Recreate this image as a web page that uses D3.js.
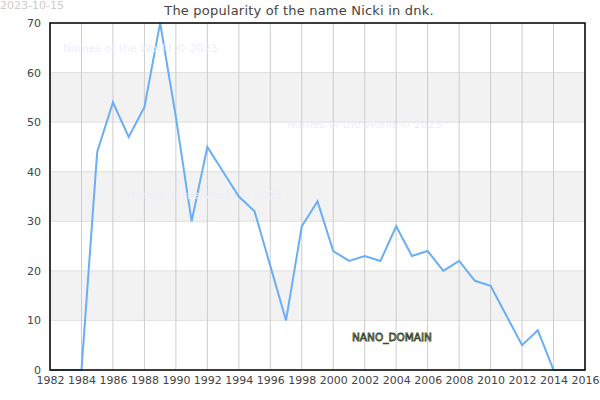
<!DOCTYPE html>
<html>
<head>
<meta charset="utf-8">
<script src="https://cdn.jsdelivr.net/npm/d3@7"></script>
<style>
	body { margin: 0; background: #fff; }
	svg text { font-family: "DejaVu Sans", sans-serif; }
</style>
</head>
<body>
<div id="chart"></div>
<script>
var years = [1982, 1983, 1984, 1985, 1986, 1987, 1988, 1989, 1990, 1991, 1992, 1993, 1994, 1995, 1996, 1997, 1998, 1999,
	2000, 2001, 2002, 2003, 2004, 2005, 2006, 2007, 2008, 2009, 2010, 2011, 2012, 2013, 2014, 2015, 2016];
var counts = [0, 0, 0, 44, 54, 47, 53, 70, 51, 30, 45, 40, 35, 32, 21, 10, 29, 34,
	24, 22, 23, 22, 29, 23, 24, 20, 22, 18, 17, 11, 5, 8, 0, 0, 0];
var xTicks = d3.range(1982, 2017, 2);
var yTicks = [0, 10, 20, 30, 40, 50, 60, 70];
var bands = [[10, 20], [30, 40], [50, 60]];

var titleText = "The popularity of the name Nicki in dnk.";
var dateText = "2023-10-15";
var watermarks = [[63, 48], [287, 124], [127, 195]];

function drawChart(target, width, height, margin) {
	var w = width - margin.left - margin.right;
	var h = height - margin.top - margin.bottom;

	var x = d3.scaleLinear().domain([1982, 2016]).range([0, w]);
	var y = d3.scaleLinear().domain([0, 70]).range([h, 0]);

	var svg = d3.select(target)
		.append("svg")
		.attr("width", width)
		.attr("height", height);

	svg.append("text")
		.attr("x", 0)
		.attr("y", 9)
		.attr("font-size", 11)
		.attr("fill", "#ccc")
		.text(dateText);

	svg.append("text")
		.attr("x", width / 2 - 1)
		.attr("y", 15)
		.attr("text-anchor", "middle")
		.attr("font-size", 13)
		.attr("letter-spacing", 0.2)
		.attr("fill", "#444")
		.text(titleText);

	var g = svg.append("g")
		.attr("transform", "translate(" + margin.left + "," + margin.top + ")");

	// grey bands
	g.selectAll("rect.band")
		.data(bands)
		.enter().append("rect")
		.attr("x", 0)
		.attr("width", w)
		.attr("y", function (d) { return y(d[1]); })
		.attr("height", function (d) { return y(d[0]) - y(d[1]); })
		.attr("fill", "#f2f2f2");

	// horizontal grid
	g.selectAll("line.hgrid")
		.data(yTicks)
		.enter().append("line")
		.attr("x1", 0).attr("x2", w)
		.attr("y1", function (d) { return y(d); })
		.attr("y2", function (d) { return y(d); })
		.attr("stroke", "#e0e0e0");

	// vertical grid
	g.selectAll("line.vgrid")
		.data(xTicks)
		.enter().append("line")
		.attr("x1", function (d) { return x(d); })
		.attr("x2", function (d) { return x(d); })
		.attr("y1", 0).attr("y2", h)
		.attr("stroke", "#ccc");

	// watermarks
	watermarks.forEach(function (p) {
		svg.append("text")
			.attr("x", p[0])
			.attr("y", p[1] + 4)
			.attr("font-size", 11)
			.attr("fill", "#eeeefa")
			.text("Names of the World © 2023");
	});

	var valueline = d3.line()
		.x(function (d, i) { return x(years[i]); })
		.y(function (d) { return y(d); });

	g.append("path")
		.attr("d", valueline(counts))
		.attr("fill", "none")
		.attr("stroke", "#6aaef5")
		.attr("stroke-width", 2);

	svg.append("text")
		.attr("x", 352)
		.attr("y", 341)
		.attr("font-size", 10.5)
		.attr("fill", "#e8eee0")
		.attr("stroke", "#3c4a30")
		.attr("stroke-width", 0.8)
		.text("NANO_DOMAIN");

	var xAxis = d3.axisBottom(x).tickValues(xTicks).tickFormat(d3.format("d")).tickSize(0).tickPadding(6);
	var yAxis = d3.axisLeft(y).tickValues(yTicks).tickSize(0).tickPadding(9);

	var xg = g.append("g")
		.attr("transform", "translate(0," + h + ")")
		.call(xAxis);
	var yg = g.append("g").call(yAxis);
	[xg, yg].forEach(function (a) {
		a.select(".domain").remove();
		a.selectAll("text").attr("font-size", 11).attr("fill", "#444")
			.style("font-family", "DejaVu Sans, sans-serif");
	});

	// frame
	g.append("rect")
		.attr("width", w)
		.attr("height", h)
		.attr("fill", "none")
		.attr("stroke", "#000")
		.attr("stroke-width", 1.5);
}

drawChart("#chart", 600, 400, { top: 23, right: 15, bottom: 30, left: 50 });
</script>
</body>
</html>
